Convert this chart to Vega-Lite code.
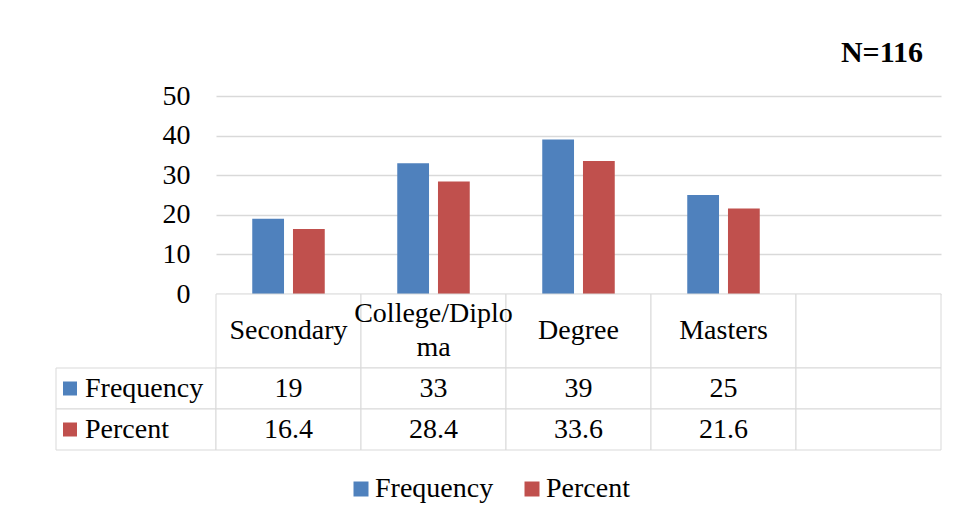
{
  "$schema": "https://vega.github.io/schema/vega-lite/v6.json",
  "background": "white",
  "padding": {"left": 55, "top": 38, "right": 17, "bottom": 10},
  "config": {
    "font": "Liberation Serif",
    "view": {"stroke": null},
    "text": {"font": "Liberation Serif", "color": "black"}
  },
  "datasets": {
    "edu": [
      {"category": "Secondary", "series": "Frequency", "value": 19},
      {"category": "Secondary", "series": "Percent", "value": 16.4},
      {"category": "College/Diploma", "series": "Frequency", "value": 33},
      {"category": "College/Diploma", "series": "Percent", "value": 28.4},
      {"category": "Degree", "series": "Frequency", "value": 39},
      {"category": "Degree", "series": "Percent", "value": 33.6},
      {"category": "Masters", "series": "Frequency", "value": 25},
      {"category": "Masters", "series": "Percent", "value": 21.6},
      {"category": " ", "series": "Frequency", "value": null},
      {"category": " ", "series": "Percent", "value": null}
    ],
    "header": [
      {"category": "Secondary", "label": "Secondary", "lines": 1},
      {"category": "College/Diploma", "label": "College/Diplo\nma", "lines": 2},
      {"category": "Degree", "label": "Degree", "lines": 1},
      {"category": "Masters", "label": "Masters", "lines": 1},
      {"category": " ", "label": "", "lines": 1}
    ],
    "rows": [
      {"series": "Frequency"},
      {"series": "Percent"}
    ]
  },
  "bounds": "flush",
  "spacing": 0,
  "columns": 2,
  "resolve": {"scale": {"x": "independent", "y": "independent"}},
  "concat": [
    {
      "width": 160,
      "height": 198,
      "data": {"values": [{"a": 1}]},
      "mark": {"type": "text", "text": ""},
      "encoding": {}
    },
    {
      "width": 725,
      "height": 198,
      "title": {"text": "N=116", "anchor": "end", "fontSize": 30, "fontWeight": "bold", "font": "Liberation Serif", "color": "black", "offset": 14, "dx": -18},
      "data": {"name": "edu"},
      "transform": [{"filter": "datum.value != null"}],
      "mark": {"type": "bar"},
      "encoding": {
        "x": {"field": "category", "type": "nominal", "axis": null,
              "scale": {"domain": ["Secondary", "College/Diploma", "Degree", "Masters", " "], "paddingInner": 0.5, "paddingOuter": 0.25}},
        "xOffset": {"field": "series", "type": "nominal",
                    "scale": {"domain": ["Frequency", "Percent"], "paddingInner": 0.22, "paddingOuter": 0}},
        "y": {"field": "value", "type": "quantitative",
              "scale": {"domain": [0, 50]},
              "axis": {"values": [0, 10, 20, 30, 40, 50], "title": null, "domain": false, "ticks": false,
                       "labelFontSize": 28, "labelColor": "black", "labelFont": "Liberation Serif",
                       "labelPadding": 26, "gridColor": "#d9d9d9", "gridWidth": 1.5}},
        "color": {"field": "series", "type": "nominal",
                  "scale": {"domain": ["Frequency", "Percent"], "range": ["#4F81BD", "#C0504D"]},
                  "legend": {"orient": "none", "legendX": 291, "legendY": 379, "direction": "horizontal",
                             "padding": 0, "title": null, "symbolType": "square", "symbolSize": 225, "symbolStrokeWidth": 0,
                             "labelFontSize": 28, "labelFont": "Liberation Serif", "labelColor": "black",
                             "labelOffset": 0, "columnPadding": 24, "labelLimit": 300}}
      }
    },
    {
      "width": 160,
      "height": 74,
      "data": {"values": [{"a": 1}]},
      "mark": {"type": "text", "text": ""},
      "encoding": {}
    },
    {
      "width": 725,
      "height": 74,
      "data": {"name": "header"},
      "encoding": {
        "x": {"field": "category", "type": "nominal", "axis": null,
              "scale": {"type": "band", "domain": ["Secondary", "College/Diploma", "Degree", "Masters", " "], "paddingInner": 0, "paddingOuter": 0}}
      },
      "layer": [
        {"mark": {"type": "rect", "fill": "white", "stroke": "#d9d9d9", "strokeWidth": 1}},
        {
          "transform": [{"filter": "datum.lines == 1"}],
          "mark": {"type": "text", "fontSize": 28},
          "encoding": {"text": {"field": "label", "type": "nominal"}}
        },
        {
          "transform": [{"filter": "datum.lines == 2"}],
          "mark": {"type": "text", "fontSize": 28, "lineBreak": "\n", "lineHeight": 34, "dy": -17},
          "encoding": {"text": {"field": "label", "type": "nominal"}}
        }
      ]
    },
    {
      "width": 160,
      "height": 82,
      "data": {"name": "rows"},
      "encoding": {
        "y": {"field": "series", "type": "nominal", "axis": null,
              "scale": {"type": "band", "domain": ["Frequency", "Percent"], "paddingInner": 0, "paddingOuter": 0}}
      },
      "layer": [
        {"mark": {"type": "rect", "fill": "white", "stroke": "#d9d9d9", "strokeWidth": 1}},
        {
          "mark": {"type": "point", "shape": "square", "filled": true, "size": 196, "opacity": 1, "xOffset": -66},
          "encoding": {
            "fill": {"field": "series", "type": "nominal", "legend": null,
                     "scale": {"domain": ["Frequency", "Percent"], "range": ["#4F81BD", "#C0504D"]}}
          }
        },
        {
          "mark": {"type": "text", "align": "left", "dx": -51, "fontSize": 28},
          "encoding": {"text": {"field": "series", "type": "nominal"}}
        }
      ]
    },
    {
      "width": 725,
      "height": 82,
      "data": {"name": "edu"},
      "encoding": {
        "x": {"field": "category", "type": "nominal", "axis": null,
              "scale": {"type": "band", "domain": ["Secondary", "College/Diploma", "Degree", "Masters", " "], "paddingInner": 0, "paddingOuter": 0}},
        "y": {"field": "series", "type": "nominal", "axis": null,
              "scale": {"type": "band", "domain": ["Frequency", "Percent"], "paddingInner": 0, "paddingOuter": 0}}
      },
      "layer": [
        {"mark": {"type": "rect", "fill": "white", "stroke": "#d9d9d9", "strokeWidth": 1}},
        {
          "transform": [{"filter": "datum.value != null"}],
          "mark": {"type": "text", "fontSize": 28},
          "encoding": {"text": {"field": "value", "type": "nominal"}}
        }
      ]
    }
  ]
}
